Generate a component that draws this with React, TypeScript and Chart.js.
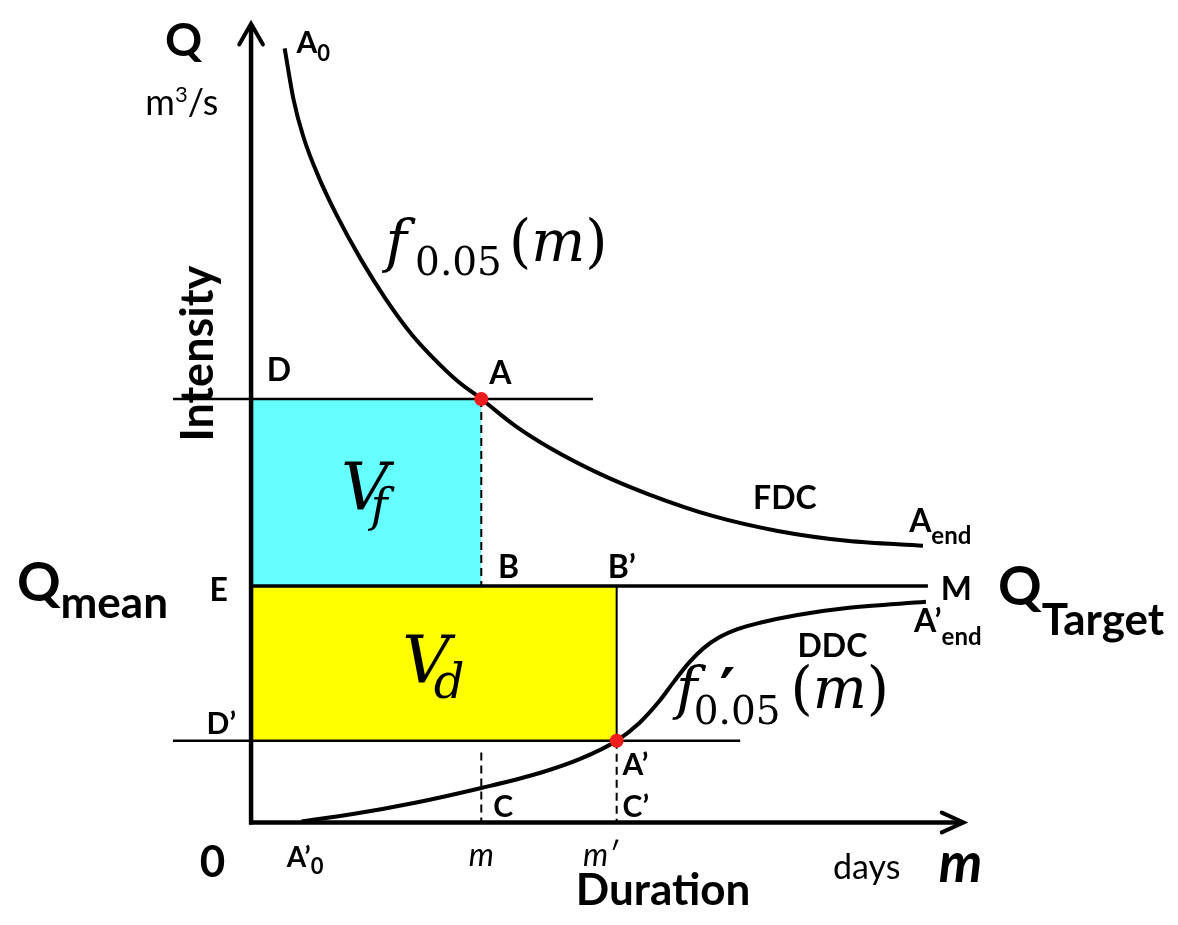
import React, { useEffect, useRef } from 'react';
import { Chart, registerables } from 'chart.js';

Chart.register(...registerables);

const W = 1178;
const H = 925;

// Concept units: duration (x) and discharge Q (y)
const X_RANGE = [-24.7, 93.1];
const Y_RANGE = [-9.7, 82.8];

const M_DAY = 23.3;        // m
const M_PRIME_DAY = 37.0;  // m'
const Q_F = 43.0;          // f0.05(m)  (point A)
const Q_MEAN = 24.0;       // Q mean / Q target
const Q_D = 8.3;           // f'0.05(m') (point A')
const X_END = 68.5;        // M

// Flow duration curve (FDC)
const fdcDuration = [3.4, 4.3, 5.3, 6.9, 8.6, 11.1, 13.6, 16.3, 18.4, 20.8, 23.3, 26.7, 30.3, 35.3, 40.3, 46.8, 53.3, 60.3, 68.0];
const fdcQ = [78.6, 73.4, 69.6, 65.4, 61.8, 57.2, 53.2, 49.5, 47.2, 44.9, 43.0, 40.3, 38.0, 35.4, 33.3, 31.1, 29.6, 28.6, 28.1];

// Drought duration curve (DDC)
const ddcDuration = [5.1, 10.3, 16.6, 23.3, 29.3, 33.3, 37.0, 39.3, 41.3, 42.8, 44.3, 45.8, 47.3, 49.3, 51.6, 55.3, 60.3, 68.3];
const ddcQ = [0.1, 0.85, 2.0, 3.5, 5.05, 6.45, 8.3, 10.1, 12.3, 14.3, 16.2, 17.7, 18.75, 19.65, 20.3, 21.07, 21.77, 22.4];

const SANS = 'Lato, "Noto Sans", sans-serif';
const MATH = '"DejaVu Serif", serif';
const B = (s: number) => `bold ${s}px ${SANS}`;
const R = (s: number) => `${s}px ${SANS}`;
const I = (s: number) => `italic ${s}px ${SANS}`;
const BI = (s: number) => `italic bold ${s}px ${SANS}`;
const MI = (s: number) => `italic ${s}px ${MATH}`;
const MR = (s: number) => `${s}px ${MATH}`;

type Part = { t: string; f: string; dx?: number; dy?: number };
type Label = { x: number; y: number; parts: Part[]; align?: 'left' | 'center'; rot?: boolean };

const LABELS: Label[] = [
  { x: -8.7, y: 77.8, parts: [{ t: 'Q', f: B(46) }] },
  { x: -10.7, y: 71.8, parts: [{ t: 'm', f: R(36) }, { t: '3', f: R(22), dy: -13 }, { t: '/s', f: R(36) }] },
  { x: 4.6, y: 78.1, parts: [{ t: 'A', f: B(30) }, { t: '0', f: B(22), dy: 8 }] },
  { x: -3.9, y: 47.6, rot: true, align: 'center', parts: [{ t: 'Intensity', f: B(45) }] },
  { x: 13.6, y: 57.0, parts: [{ t: 'f', f: MI(58) }] },
  { x: 16.6, y: 55.6, parts: [{ t: '0.05', f: MR(39) }] },
  { x: 26.1, y: 57.0, parts: [{ t: '(', f: MR(57) }, { t: 'm', f: MI(57) }, { t: ')', f: MR(57) }] },
  { x: 1.6, y: 44.8, parts: [{ t: 'D', f: B(32) }] },
  { x: 24.1, y: 44.5, parts: [{ t: 'A', f: B(32) }] },
  { x: 25.0, y: 24.8, parts: [{ t: 'B', f: B(32) }] },
  { x: 36.1, y: 24.8, parts: [{ t: 'B’', f: B(32) }] },
  { x: -4.2, y: 22.5, parts: [{ t: 'E', f: B(32) }] },
  { x: -23.7, y: 22.5, parts: [{ t: 'Q', f: B(54) }, { t: 'mean', f: B(44), dy: 17 }] },
  { x: 9.1, y: 31.8, parts: [{ t: 'V', f: MI(66) }] },
  { x: 12.1, y: 30.6, parts: [{ t: 'f', f: MI(46) }] },
  { x: 15.3, y: 14.3, parts: [{ t: 'V', f: MI(66) }] },
  { x: 18.5, y: 12.6, parts: [{ t: 'd', f: MI(48) }] },
  { x: 50.8, y: 31.8, parts: [{ t: 'FDC', f: B(32) }] },
  { x: 66.6, y: 29.5, parts: [{ t: 'A', f: B(32) }, { t: 'end', f: B(24), dy: 12 }] },
  { x: 69.8, y: 22.6, parts: [{ t: 'M', f: B(33) }] },
  { x: 75.6, y: 22.1, parts: [{ t: 'Q', f: B(54) }, { t: 'Target', f: B(44), dy: 30 }] },
  { x: 55.3, y: 16.8, parts: [{ t: 'DDC', f: B(32) }] },
  { x: 67.1, y: 19.3, parts: [{ t: 'A’', f: B(32) }, { t: 'end', f: B(24), dy: 13 }] },
  { x: 43.0, y: 11.6, parts: [{ t: 'f', f: MI(58) }] },
  { x: 47.4, y: 11.3, parts: [{ t: '′', f: `bold 60px ${MATH}` }] },
  { x: 44.8, y: 10.0, parts: [{ t: '0.05', f: MR(39) }] },
  { x: 54.6, y: 11.6, parts: [{ t: '(', f: MR(57) }, { t: 'm', f: MI(57) }, { t: ')', f: MR(57) }] },
  { x: -4.5, y: 9.0, parts: [{ t: 'D’', f: B(30) }] },
  { x: 37.6, y: 4.8, parts: [{ t: 'A’', f: B(30) }] },
  { x: 24.5, y: 0.6, parts: [{ t: 'C', f: B(30) }] },
  { x: 37.6, y: 0.6, parts: [{ t: 'C’', f: B(30) }] },
  { x: -5.2, y: -5.5, parts: [{ t: '0', f: B(44) }] },
  { x: 3.6, y: -4.5, parts: [{ t: 'A’', f: B(28) }, { t: '0', f: B(22), dy: 7 }] },
  { x: 23.3, y: -4.4, align: 'center', parts: [{ t: 'm', f: I(32) }] },
  { x: 33.6, y: -4.4, parts: [{ t: 'm′', f: I(32) }] },
  { x: 41.7, y: -8.4, align: 'center', parts: [{ t: 'Duration', f: B(44) }] },
  { x: 58.9, y: -5.7, parts: [{ t: 'days', f: R(34) }] },
  { x: 69.6, y: -6.0, parts: [{ t: 'm', f: BI(55) }] },
];

const textPlugin = {
  id: 'diagramLabels',
  afterDatasetsDraw(chart: any) {
    const { ctx } = chart;
    const xs = chart.scales.x;
    const ys = chart.scales.y;
    ctx.save();
    ctx.fillStyle = '#000';
    ctx.textBaseline = 'alphabetic';
    ctx.textAlign = 'left';
    for (const l of LABELS) {
      const px = xs.getPixelForValue(l.x);
      const py = ys.getPixelForValue(l.y);
      ctx.save();
      ctx.translate(px, py);
      if (l.rot) ctx.rotate(-Math.PI / 2);
      let total = 0;
      for (const p of l.parts) {
        ctx.font = p.f;
        total += ctx.measureText(p.t).width + (p.dx || 0);
      }
      let cx = l.align === 'center' ? -total / 2 : 0;
      for (const p of l.parts) {
        ctx.font = p.f;
        cx += p.dx || 0;
        ctx.fillText(p.t, cx, p.dy || 0);
        cx += ctx.measureText(p.t).width;
      }
      ctx.restore();
    }
    ctx.restore();
  },
};

const pts = (xs: number[], ys: number[]) => xs.map((x, i) => ({ x, y: ys[i] }));

const line = (data: { x: number; y: number }[], width: number, order: number, extra: any = {}) => ({
  data,
  showLine: true,
  borderColor: '#000',
  borderWidth: width,
  pointRadius: 0,
  fill: false,
  order,
  ...extra,
});

export default function App() {
  const ref = useRef<HTMLCanvasElement | null>(null);
  useEffect(() => {
    if (!ref.current) return;
    const dash = { borderDash: [8, 5] };
    const chart = new Chart(ref.current, {
      type: 'scatter',
      data: {
        datasets: [
          {
            data: [{ x: M_DAY, y: Q_F }, { x: M_PRIME_DAY, y: Q_D }],
            showLine: false,
            pointRadius: 7,
            pointBackgroundColor: '#ee1c1c',
            pointBorderWidth: 0,
            pointBorderColor: '#ee1c1c',
            order: 0,
          } as any,
          line(pts(fdcDuration, fdcQ), 4, 1, { cubicInterpolationMode: 'monotone' }),
          line(pts(ddcDuration, ddcQ), 4, 1, { cubicInterpolationMode: 'monotone' }),
          line([{ x: -0.2, y: 0 }, { x: 72.0, y: 0 }], 4.5, 2),
          line([{ x: 0, y: -0.2 }, { x: 0, y: 81.0 }], 4.5, 2),
          line([{ x: 69.9, y: 1.0 }, { x: 72.1, y: 0 }, { x: 69.9, y: -1.0 }], 4, 2, { borderCapStyle: 'round' }),
          line([{ x: -1.2, y: 79.0 }, { x: 0, y: 81.1 }, { x: 1.2, y: 79.0 }], 4, 2, { borderCapStyle: 'round' }),
          line([{ x: 0, y: Q_MEAN }, { x: X_END, y: Q_MEAN }], 3.5, 3),
          line([{ x: -7.9, y: Q_F }, { x: 34.6, y: Q_F }], 2.5, 3),
          line([{ x: -7.9, y: Q_D }, { x: 49.5, y: Q_D }], 2.5, 3),
          line([{ x: M_PRIME_DAY, y: Q_MEAN }, { x: M_PRIME_DAY, y: Q_D }], 2, 3),
          line([{ x: M_DAY, y: Q_F }, { x: M_DAY, y: Q_MEAN }], 2, 3, dash),
          line([{ x: M_DAY, y: 7.1 }, { x: M_DAY, y: 0 }], 2, 3, dash),
          line([{ x: M_PRIME_DAY, y: Q_D }, { x: M_PRIME_DAY, y: 0 }], 2, 3, dash),
          line([{ x: 0, y: Q_F }, { x: M_DAY, y: Q_F }], 0, 20, {
            borderColor: 'rgba(0,0,0,0)',
            fill: { value: Q_MEAN },
            backgroundColor: '#66ffff',
          }),
          line([{ x: 0, y: Q_MEAN }, { x: M_PRIME_DAY, y: Q_MEAN }], 0, 20, {
            borderColor: 'rgba(0,0,0,0)',
            fill: { value: Q_D },
            backgroundColor: '#ffff00',
          }),
        ],
      },
      options: {
        responsive: false,
        animation: false,
        events: [],
        layout: { padding: 0 },
        scales: {
          x: { type: 'linear', min: X_RANGE[0], max: X_RANGE[1], display: false },
          y: { type: 'linear', min: Y_RANGE[0], max: Y_RANGE[1], display: false },
        },
        plugins: {
          legend: { display: false },
          tooltip: { enabled: false },
        },
      },
      plugins: [textPlugin],
    });
    return () => chart.destroy();
  }, []);
  return (
    <div style={{ position: 'absolute', left: 0, top: 0, width: W, height: H, background: '#fff' }}>
      <canvas ref={ref} width={W} height={H} style={{ width: W, height: H, display: 'block' }} />
    </div>
  );
}
